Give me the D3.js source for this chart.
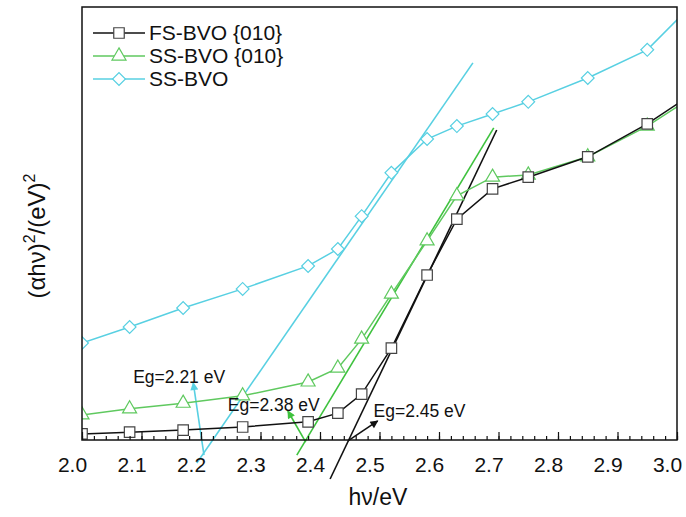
<!DOCTYPE html>
<html>
<head>
<meta charset="utf-8">
<script src="https://cdn.jsdelivr.net/npm/d3@7"></script>
<style>
body { margin: 0; background: #fff; }
svg text { font-family: "Liberation Sans", Arial, sans-serif; }
</style>
</head>
<body>
<svg></svg>
<script>
// data (y in arbitrary units, 0-100)
var energy = [2.00, 2.08, 2.17, 2.27, 2.38, 2.43, 2.47, 2.52, 2.58, 2.63, 2.69, 2.75, 2.85, 2.95, 3.02];
var fsBvo010 = [1.4, 1.8, 2.3, 3.0, 4.2, 6.2, 10.6, 21.2, 38.1, 51.0, 58.0, 60.7, 65.4, 73.0, 79.4];
var ssBvo010 = [5.8, 7.2, 8.5, 10.2, 13.4, 16.6, 23.3, 33.7, 46.0, 56.4, 60.7, 61.2, 65.4, 72.5, 78.7];
var ssBvo = [22.4, 26.1, 30.5, 34.9, 40.2, 44.1, 51.7, 61.7, 69.5, 72.5, 75.3, 78.1, 83.6, 90.1, 99.8];

var seriesNames = ["FS-BVO {010}", "SS-BVO {010}", "SS-BVO"];
var xTicks = [2.0, 2.1, 2.2, 2.3, 2.4, 2.5, 2.6, 2.7, 2.8, 2.9, 3.0];

// tangent lines [start, end]
var tangentFS = [[2.417, -9.0], [2.697, 71.6]];
var tangentSS010 = [[2.361, -3.5], [2.692, 72.1]];
var tangentSS = [[2.193, -5.3], [2.657, 87.1]];

// arrows [from, to] and labels [x, y, text]
var arrowFS = [[2.447, -0.2], [2.497, 4.4]];
var arrowSS010 = [[2.376, -0.5], [2.346, 6.7]];
var arrowSS = [[2.205, -3.5], [2.187, 13.2]];
var labelFS = [2.49, 5.3, "Eg=2.45 eV"];
var labelSS010 = [2.245, 6.7, "Eg=2.38 eV"];
var labelSS = [2.086, 13.2, "Eg=2.21 eV"];

var black = "#111", green = "#5fc95f", cyan = "#58d0e2";
var greenTan = "#3ec23e";

var svg = d3.select("svg")
    .attr("width", 686)
    .attr("height", 517);

var pLeft = 82, pRight = 677, pTop = 7, pBottom = 440;

var xScale = d3.scaleLinear().domain([2.0, 3.0]).range([pLeft, pRight]),
yScale = d3.scaleLinear().domain([0, 100]).range([pBottom, pTop]);

svg.append("clipPath").attr("id", "plot")
    .append("rect")
    .attr("x", pLeft).attr("y", pTop)
    .attr("width", pRight - pLeft).attr("height", pBottom - pTop);

var line = d3.line()
    .x(function(d) { return xScale(d[0]); })
    .y(function(d) { return yScale(d[1]); });

// tangents and arrows (they run below the axis)
var defs = svg.append("defs");
[["aBlack", black], ["aGreen", greenTan], ["aCyan", cyan]].forEach(function(m) {
    defs.append("marker")
        .attr("id", m[0])
        .attr("viewBox", "0 0 10 10")
        .attr("refX", 9).attr("refY", 5)
        .attr("markerWidth", 12).attr("markerHeight", 8)
        .attr("markerUnits", "userSpaceOnUse")
        .attr("orient", "auto")
        .append("path")
        .attr("d", "M0,0L10,5L0,10Z")
        .style("fill", m[1]);
});

[[tangentSS, cyan], [tangentSS010, greenTan], [tangentFS, black]].forEach(function(t) {
    svg.append("path")
        .datum(t[0])
        .attr("d", line)
        .style("fill", "none")
        .style("stroke", t[1])
        .style("stroke-width", 1.6);
});

[[arrowSS, cyan, "aCyan"], [arrowSS010, greenTan, "aGreen"], [arrowFS, black, "aBlack"]].forEach(function(a) {
    svg.append("path")
        .datum(a[0])
        .attr("d", line)
        .style("fill", "none")
        .style("stroke", a[1])
        .style("stroke-width", 1.6)
        .attr("marker-end", "url(#" + a[2] + ")");
});

// series (diamond = square turned 45deg)
var series = [
    {values: ssBvo, color: cyan, stroke: cyan, shape: d3.symbolSquare, size: 82, rot: 45},
    {values: ssBvo010, color: green, stroke: green, shape: d3.symbolTriangle, size: 85, rot: 0},
    {values: fsBvo010, color: black, stroke: "#444", shape: d3.symbolSquare, size: 110, rot: 0}
];

var plot = svg.append("g").attr("clip-path", "url(#plot)");

series.forEach(function(s) {
    var pts = energy.map(function(e, i) { return [e, s.values[i]]; });
    plot.append("path")
        .datum(pts)
        .attr("d", line)
        .style("fill", "none")
        .style("stroke", s.color)
        .style("stroke-width", 1.5);
    plot.selectAll(null)
        .data(pts)
        .enter()
        .append("path")
        .attr("transform", function(d) { return "translate(" + xScale(d[0]) + "," + yScale(d[1]) + ")rotate(" + s.rot + ")"; })
        .attr("d", d3.symbol().type(s.shape).size(s.size))
        .style("fill", "#fff")
        .style("stroke", s.stroke)
        .style("stroke-width", 1.2);
});

// labels
[labelSS, labelSS010, labelFS].forEach(function(l) {
    svg.append("text")
        .attr("x", xScale(l[0]))
        .attr("y", yScale(l[1]))
        .style("font-size", "17.5px")
        .style("fill", "#111")
        .text(l[2]);
});

// axis with inward ticks
var minorTicks = d3.range(0, 51).map(function(i) { return 2.0 + i * 0.02; });
svg.append("g")
    .attr("transform", "translate(0," + pBottom + ")")
    .call(d3.axisBottom(xScale).tickValues(minorTicks).tickSize(-4).tickFormat(""))
    .call(function(g) { g.select(".domain").remove(); })
    .selectAll("line").style("stroke", black).style("stroke-width", 1.2);

var xAxis = svg.append("g")
    .attr("transform", "translate(0," + pBottom + ")")
    .call(d3.axisBottom(xScale).tickValues(xTicks).tickSize(-8).tickPadding(17).tickFormat(d3.format(".1f")));
xAxis.select(".domain").remove();
xAxis.selectAll("line").style("stroke", black).style("stroke-width", 1.2);
xAxis.selectAll("text")
    .attr("dx", -10)
    .style("font-family", "Liberation Sans, Arial, sans-serif")
    .style("font-size", "21px")
    .style("fill", "#111");

svg.append("rect")
    .attr("x", pLeft).attr("y", pTop)
    .attr("width", pRight - pLeft).attr("height", pBottom - pTop)
    .style("fill", "none")
    .style("stroke", black)
    .style("stroke-width", 1.5);

// axis titles
svg.append("text")
    .attr("x", 378)
    .attr("y", 505)
    .attr("text-anchor", "middle")
    .style("font-size", "23px")
    .style("fill", "#111")
    .text("h\u03bd/eV");

var yTitle = svg.append("text")
    .attr("text-anchor", "middle")
    .attr("transform", "translate(45,236)rotate(-90)")
    .style("font-size", "24px")
    .style("fill", "#111");
yTitle.append("tspan").text("(\u03b1h\u03bd)");
yTitle.append("tspan").attr("dy", -10).style("font-size", "16px").text("2");
yTitle.append("tspan").attr("dy", 10).text("/(eV)");
yTitle.append("tspan").attr("dy", -10).style("font-size", "16px").text("2");

// legend
var legend = svg.append("g");
series.slice().reverse().forEach(function(s, i) {
    var y = 33 + i * 23;
    legend.append("line")
        .attr("x1", 93).attr("x2", 145)
        .attr("y1", y).attr("y2", y)
        .style("stroke", s.color)
        .style("stroke-width", 1.5);
    legend.append("path")
        .attr("transform", "translate(119," + y + ")rotate(" + s.rot + ")")
        .attr("d", d3.symbol().type(s.shape).size(s.size))
        .style("fill", "#fff")
        .style("stroke", s.stroke)
        .style("stroke-width", 1.2);
    legend.append("text")
        .attr("x", 149)
        .attr("y", y + 7)
        .style("font-size", "21px")
        .style("fill", "#111")
        .text(seriesNames[i]);
});
</script>
</body>
</html>
